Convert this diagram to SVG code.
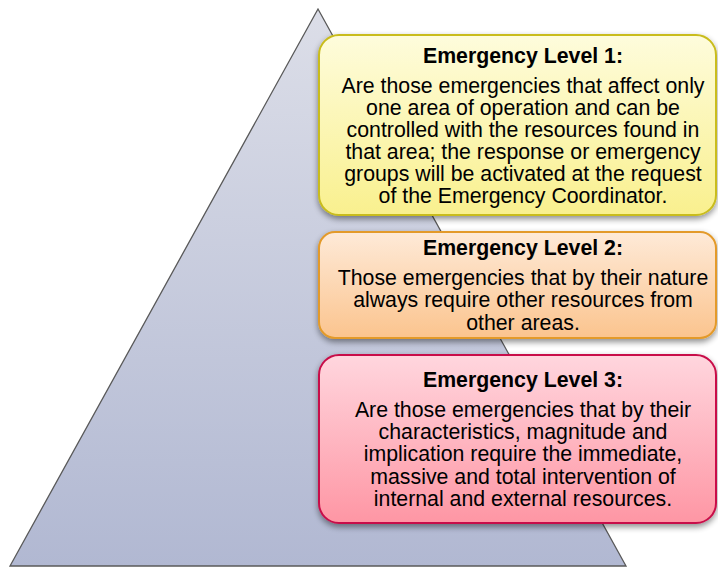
<svg xmlns="http://www.w3.org/2000/svg" width="718" height="567" viewBox="0 0 718 567">
<defs>
<linearGradient id="gTri" x1="0" y1="0" x2="0" y2="1">
<stop offset="0" stop-color="#dcdee8"/><stop offset="1" stop-color="#b1b8d2"/>
</linearGradient>
<linearGradient id="g1" x1="0" y1="0" x2="0" y2="1">
<stop offset="0" stop-color="#fefcdc"/><stop offset="1" stop-color="#f9f08e"/>
</linearGradient>
<linearGradient id="g2" x1="0" y1="0" x2="0" y2="1">
<stop offset="0" stop-color="#feead8"/><stop offset="1" stop-color="#fbc48e"/>
</linearGradient>
<linearGradient id="g3" x1="0" y1="0" x2="0" y2="1">
<stop offset="0" stop-color="#ffd6de"/><stop offset="1" stop-color="#fe96a4"/>
</linearGradient>
<filter id="sh" x="-10%" y="-10%" width="120%" height="130%">
<feGaussianBlur in="SourceAlpha" stdDeviation="3"/>
<feOffset dx="0" dy="3" result="b"/>
<feComponentTransfer><feFuncA type="linear" slope="0.45"/></feComponentTransfer>
<feMerge><feMergeNode/><feMergeNode in="SourceGraphic"/></feMerge>
</filter>
</defs>
<style>
.t{font-family:"Liberation Sans",Arial,sans-serif;font-size:21.3px;fill:#000;text-anchor:middle}
.b{font-weight:bold}
</style>
<g id="pyramid">
<polygon points="318,9 10,566 626,566" fill="url(#gTri)" stroke="#595959" stroke-width="1.3"/>
</g>
<g id="level1">
<rect x="319" y="35" width="397" height="180" rx="20" fill="url(#g1)" stroke="#c9bc1c" stroke-width="2" filter="url(#sh)"/>
<text class="t b" x="523" y="63">Emergency Level 1:</text>
<text class="t" x="523" y="93">Are those emergencies that affect only</text>
<text class="t" x="523" y="115">one area of operation and can be</text>
<text class="t" x="523" y="137">controlled with the resources found in</text>
<text class="t" x="523" y="159">that area; the response or emergency</text>
<text class="t" x="523" y="181">groups will be activated at the request</text>
<text class="t" x="523" y="203">of the Emergency Coordinator.</text>
</g>
<g id="level2">
<rect x="319" y="232" width="397" height="106" rx="16" fill="url(#g2)" stroke="#e39a2a" stroke-width="2" filter="url(#sh)"/>
<text class="t b" x="523" y="255">Emergency Level 2:</text>
<text class="t" x="523" y="285">Those emergencies that by their nature</text>
<text class="t" x="523" y="307">always require other resources from</text>
<text class="t" x="523" y="330">other areas.</text>
</g>
<g id="level3">
<rect x="319" y="355" width="397" height="168" rx="20" fill="url(#g3)" stroke="#c8104a" stroke-width="2" filter="url(#sh)"/>
<text class="t b" x="523" y="387">Emergency Level 3:</text>
<text class="t" x="523" y="417">Are those emergencies that by their</text>
<text class="t" x="523" y="439">characteristics, magnitude and</text>
<text class="t" x="523" y="461">implication require the immediate,</text>
<text class="t" x="523" y="484">massive and total intervention of</text>
<text class="t" x="523" y="506">internal and external resources.</text>
</g>
</svg>
